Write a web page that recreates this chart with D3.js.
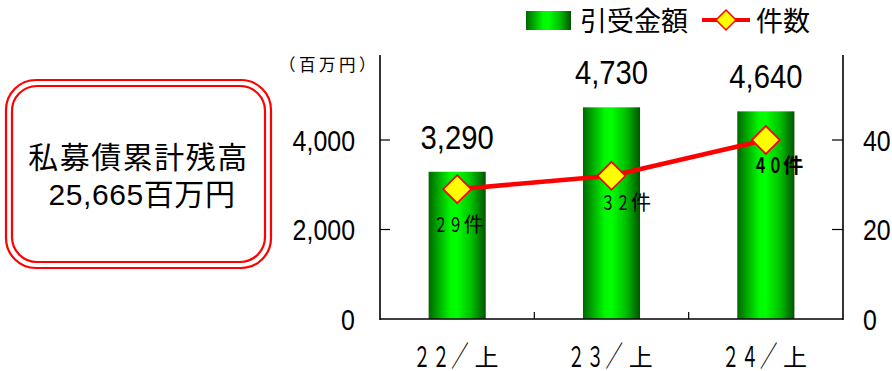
<!DOCTYPE html>
<html>
<head>
<meta charset="utf-8">
<script src="https://cdn.jsdelivr.net/npm/d3@7"></script>
<style>
  html, body { margin: 0; padding: 0; background: #ffffff; }
  svg { display: block; }
</style>
</head>
<body>
<svg id="chart" width="892" height="371"></svg>
<script>
// ---- data ----
const categories = ["２２／上", "２３／上", "２４／上"];
const amounts = [3290, 4730, 4640];          // 引受金額 (百万円)
const counts = [29, 32, 40];                  // 件数
const countLabels = ["２９件", "３２件", "４０件"];
const leftTicks = [0, 2000, 4000];
const rightTicks = [0, 20, 40];
const legendNames = ["引受金額", "件数"];
const boxLines = ["私募債累計残高", "25,665百万円"];
const unitLabel = "（百万円）";

// ---- layout / style ----
const svg = d3.select("#chart");
const plot = { left: 380, right: 843, top: 55, bottom: 319 };
const CJK = "'Noto Sans CJK JP', 'Noto Sans', sans-serif";
const LAT = "'Liberation Sans', Arial, sans-serif";
// where each count label sits relative to its marker
const countLabelOffset = [[3, 43], [16, 34], [14, 33]];
const countLabelBold = [false, false, true];

const x = d3.scaleBand().domain(categories)
  .range([plot.left, plot.right]).paddingInner(0.63).paddingOuter(0.315);
const yL = d3.scaleLinear().domain([0, 6000]).range([plot.bottom, 50.5]);
const yR = d3.scaleLinear().domain([0, 60]).range([plot.bottom, 50.5]);

// bar gradient
const defs = svg.append("defs");
const grad = defs.append("linearGradient").attr("id", "barGrad")
  .attr("x1", "0%").attr("x2", "100%").attr("y1", "0%").attr("y2", "0%");
[[0, "#006800"], [0.38, "#00f800"], [0.5, "#00ff00"], [0.75, "#00c000"], [1, "#005400"]]
  .forEach(([o, c]) => grad.append("stop").attr("offset", o).attr("stop-color", c));

// ---- note box ----
const box = svg.append("g");
box.append("rect").attr("x", 6).attr("y", 80).attr("width", 265).attr("height", 188)
  .attr("rx", 30).attr("fill", "#fff").attr("stroke", "#ff0000").attr("stroke-width", 2.2);
box.append("rect").attr("x", 12).attr("y", 86).attr("width", 253).attr("height", 176)
  .attr("rx", 25).attr("fill", "none").attr("stroke", "#ff0000").attr("stroke-width", 2.2);
box.append("text").attr("x", 138.5).attr("y", 168).attr("text-anchor", "middle")
  .attr("font-family", CJK).attr("font-size", 30).attr("letter-spacing", 1.5)
  .attr("fill", "#000").text(boxLines[0]);
box.append("text").attr("x", 142).attr("y", 205).attr("text-anchor", "middle")
  .attr("font-family", LAT + ", " + CJK).attr("font-size", 30).attr("letter-spacing", 0.6)
  .attr("fill", "#000").text(boxLines[1]);

// ---- bars ----
svg.append("g").selectAll("rect").data(amounts).join("rect")
  .attr("x", (d, i) => x(categories[i]))
  .attr("y", d => yL(d))
  .attr("width", x.bandwidth())
  .attr("height", d => yL(0) - yL(d))
  .attr("fill", "url(#barGrad)");

// bar value labels
svg.append("g").selectAll("text").data(amounts).join("text")
  .attr("transform", (d, i) =>
    `translate(${x(categories[i]) + x.bandwidth() / 2},${yL(d) - 23}) scale(0.86,1)`)
  .attr("text-anchor", "middle")
  .attr("font-family", LAT).attr("font-size", 34).attr("fill", "#000")
  .text(d => d3.format(",")(d));

// ---- axes ----
const axisG = svg.append("g").attr("stroke", "#000").attr("fill", "none");
axisG.append("line").attr("x1", plot.left).attr("x2", plot.left)
  .attr("y1", plot.top).attr("y2", plot.bottom + 1).attr("stroke-width", 1.6);
axisG.append("line").attr("x1", plot.right).attr("x2", plot.right)
  .attr("y1", plot.top).attr("y2", plot.bottom + 1).attr("stroke-width", 1.6);
axisG.append("line").attr("x1", plot.left).attr("x2", plot.right)
  .attr("y1", plot.bottom).attr("y2", plot.bottom).attr("stroke-width", 1.6);

// left axis
const left = svg.append("g");
left.selectAll("line").data(leftTicks.filter(d => d > 0)).join("line")
  .attr("x1", plot.left).attr("x2", plot.left + 10)
  .attr("y1", d => yL(d)).attr("y2", d => yL(d))
  .attr("stroke", "#000").attr("stroke-width", 1.2);
left.selectAll("text").data(leftTicks).join("text")
  .attr("transform", d => `translate(355,${yL(d) + 10.5}) scale(0.86,1)`)
  .attr("text-anchor", "end")
  .attr("font-family", LAT).attr("font-size", 29).attr("fill", "#000")
  .text(d => d3.format(",")(d));

// right axis
const right = svg.append("g");
right.selectAll("line").data(rightTicks.filter(d => d > 0)).join("line")
  .attr("x1", plot.right - 11).attr("x2", plot.right)
  .attr("y1", d => yR(d)).attr("y2", d => yR(d))
  .attr("stroke", "#000").attr("stroke-width", 1.2);
right.selectAll("text").data(rightTicks).join("text")
  .attr("transform", d => `translate(863,${yR(d) + 10.5}) scale(0.86,1)`)
  .attr("text-anchor", "start")
  .attr("font-family", LAT).attr("font-size", 29).attr("fill", "#000")
  .text(d => d);

// category separators on the x axis
svg.append("g").selectAll("line").data(categories.slice(1)).join("line")
  .attr("x1", d => x(d) - x.step() * x.paddingInner() / 2)
  .attr("x2", d => x(d) - x.step() * x.paddingInner() / 2)
  .attr("y1", plot.bottom).attr("y2", plot.bottom - 7)
  .attr("stroke", "#000").attr("stroke-width", 1.2);

// unit label
svg.append("text").attr("x", 329).attr("y", 71).attr("text-anchor", "middle")
  .attr("font-family", CJK).attr("font-size", 16.5).attr("letter-spacing", 3.5)
  .attr("fill", "#000")
  .text(unitLabel);

// per-char labels: narrow digit/slash glyphs squeezed horizontally, CJK glyphs full width
function squeezedLabel(g, str, cx, baseline, o) {
  const chars = Array.from(str);
  const isNarrow = c => /[0-9０-９\/／]/.test(c);
  const centers = [0];
  for (let i = 1; i < chars.length; i++) {
    const step = (isNarrow(chars[i - 1]) && isNarrow(chars[i])) ? o.p1 : o.p2;
    centers.push(centers[i - 1] + step);
  }
  const last = chars.length - 1;
  const lo = centers[0] - (isNarrow(chars[0]) ? o.narrowW : o.cjkW) / 2;
  const hi = centers[last] + (isNarrow(chars[last]) ? o.narrowW : o.cjkW) / 2;
  const shift = cx - (lo + hi) / 2;
  const lg = g.append("g").attr("font-family", CJK).attr("fill", "#000")
    .attr("font-weight", o.bold ? "bold" : "normal");
  chars.forEach((c, i) => {
    const narrow = isNarrow(c);
    lg.append("text")
      .attr("transform", `translate(${centers[i] + shift},${narrow ? baseline : baseline + o.cjkDy}) scale(${narrow ? o.sx : 1},1)`)
      .attr("text-anchor", "middle")
      .attr("font-size", narrow ? o.narrowSize : o.cjkSize)
      .text(c);
  });
}

// category labels
const catG = svg.append("g");
categories.forEach(c => {
  squeezedLabel(catG, c, x(c) + x.bandwidth() / 2 + 0.5, 366.5,
    { p1: 19, p2: 26.5, narrowW: 9, cjkW: 23, sx: 0.6, narrowSize: 29, cjkSize: 24, cjkDy: -0.5 });
});

// ---- count line ----
const pts = counts.map((d, i) => [x(categories[i]) + x.bandwidth() / 2, yR(d)]);
svg.append("path").datum(pts)
  .attr("d", d3.line())
  .attr("fill", "none").attr("stroke", "#ff0000").attr("stroke-width", 4.5)
  .attr("stroke-linejoin", "round");

const diamond = r => `M0,${-r}L${r},0L0,${r}L${-r},0Z`;
svg.append("g").selectAll("path").data(pts).join("path")
  .attr("transform", d => `translate(${d[0]},${d[1]})`)
  .attr("d", diamond(14))
  .attr("fill", "#ffff00").attr("stroke", "#ff0000").attr("stroke-width", 1.8);

// count labels
const cntG = svg.append("g");
countLabels.forEach((s, i) => {
  const [px, py] = pts[i];
  squeezedLabel(cntG, s, px + countLabelOffset[i][0], py + countLabelOffset[i][1],
    { p1: 15, p2: 18, narrowW: 7, cjkW: 19, sx: 0.7, narrowSize: 20.5, cjkSize: 20,
      cjkDy: 0, bold: countLabelBold[i] });
});

// ---- legend ----
const leg = svg.append("g");
leg.append("rect").attr("x", 526).attr("y", 11).attr("width", 45).attr("height", 19)
  .attr("fill", "url(#barGrad)");
leg.append("text").attr("x", 580).attr("y", 31)
  .attr("font-family", CJK).attr("font-size", 27).attr("fill", "#000").text(legendNames[0]);
leg.append("line").attr("x1", 702).attr("x2", 750).attr("y1", 20).attr("y2", 20)
  .attr("stroke", "#ff0000").attr("stroke-width", 4);
leg.append("path").attr("transform", "translate(726,20)").attr("d", diamond(10))
  .attr("fill", "#ffff00").attr("stroke", "#ff0000").attr("stroke-width", 1.5);
leg.append("text").attr("x", 756).attr("y", 31)
  .attr("font-family", CJK).attr("font-size", 27).attr("fill", "#000").text(legendNames[1]);
</script>
</body>
</html>
